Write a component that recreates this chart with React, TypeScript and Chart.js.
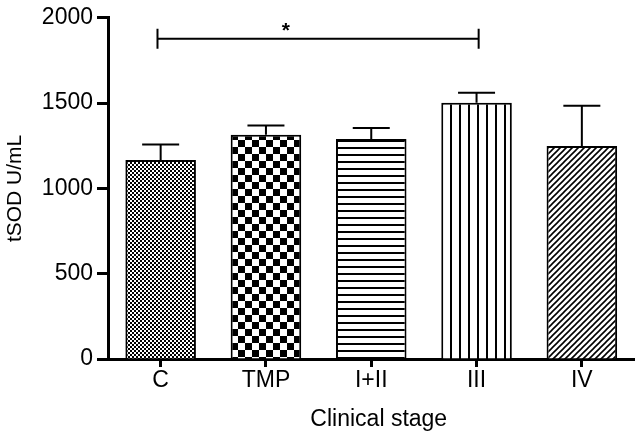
import React, { useEffect, useRef } from 'react';
import { Chart, registerables } from 'chart.js';

Chart.register(...registerables);

const categories = ['C', 'TMP', 'I+II', 'III', 'IV'];
const means = [1166, 1314, 1289, 1502, 1249];
const errors = [92, 54, 65, 58, 236];
const yTicks = [0, 500, 1000, 1500, 2000];
const sigFrom = [-0.03];
const sigTo = [3.02];
const sigLevel = [1877];
const sigLabel = ['*'];
const sigLabelAt = [1.19];
const xTitle = 'Clinical stage';
const yTitle = 'tSOD U/mL';
const patternKinds = ['fineChecker', 'checker', 'hlines', 'vlines', 'diag'];

const FONT = '"Liberation Sans", Arial, Helvetica, sans-serif';

function makePattern(kind: string): CanvasPattern | string {
  const c = document.createElement('canvas');
  let s = 4;
  if (kind === 'fineChecker') s = 4;
  if (kind === 'checker') s = 14;
  if (kind === 'hlines') s = 7;
  if (kind === 'vlines') s = 9;
  if (kind === 'diag') s = 6;
  c.width = s;
  c.height = s;
  const g = c.getContext('2d')!;
  g.fillStyle = '#fff';
  g.fillRect(0, 0, s, s);
  g.fillStyle = '#000';
  g.strokeStyle = '#000';
  if (kind === 'fineChecker') {
    g.fillRect(0, 0, 2, 2);
    g.fillRect(2, 2, 2, 2);
  } else if (kind === 'checker') {
    g.fillRect(0, 0, 7, 7);
    g.fillRect(7, 7, 7, 7);
  } else if (kind === 'hlines') {
    g.fillRect(0, 0, s, 2);
  } else if (kind === 'vlines') {
    g.fillRect(0, 0, 2, s);
  } else if (kind === 'diag') {
    g.lineWidth = 1.6;
    g.beginPath();
    g.moveTo(-1, s + 1);
    g.lineTo(s + 1, -1);
    g.moveTo(-1, 1);
    g.lineTo(1, -1);
    g.moveTo(s - 1, s + 1);
    g.lineTo(s + 1, s - 1);
    g.stroke();
  }
  const p = g.createPattern(c, 'repeat');
  return p || '#888';
}

const overlayPlugin = {
  id: 'overlay',
  afterDatasetsDraw(chart: any) {
    const ctx: CanvasRenderingContext2D = chart.ctx;
    const meta = chart.getDatasetMeta(0);
    const y = chart.scales.y;
    const x = chart.scales.x;
    ctx.save();
    ctx.strokeStyle = '#000';
    ctx.lineWidth = 2;
    meta.data.forEach((bar: any, i: number) => {
      const top = y.getPixelForValue(means[i] + errors[i]);
      const base = y.getPixelForValue(means[i]);
      ctx.beginPath();
      ctx.moveTo(bar.x, base);
      ctx.lineTo(bar.x, top);
      ctx.moveTo(bar.x - 18.5, top);
      ctx.lineTo(bar.x + 18.5, top);
      ctx.stroke();
    });
    // significance brackets
    sigFrom.forEach((f, i) => {
      const x1 = x.getPixelForValue(f);
      const x2 = x.getPixelForValue(sigTo[i]);
      const yy = y.getPixelForValue(sigLevel[i]);
      ctx.lineWidth = 2;
      ctx.beginPath();
      ctx.moveTo(x1, yy);
      ctx.lineTo(x2, yy);
      ctx.moveTo(x1, yy - 10);
      ctx.lineTo(x1, yy + 10);
      ctx.moveTo(x2, yy - 10);
      ctx.lineTo(x2, yy + 10);
      ctx.stroke();
      ctx.fillStyle = '#000';
      ctx.font = `bold 21px ${FONT}`;
      ctx.textAlign = 'center';
      ctx.textBaseline = 'alphabetic';
      ctx.fillText(sigLabel[i], x.getPixelForValue(sigLabelAt[i]), yy - 2);
    });
    // x axis title
    ctx.fillStyle = '#000';
    ctx.font = `23px ${FONT}`;
    ctx.textAlign = 'center';
    ctx.textBaseline = 'middle';
    ctx.fillText(xTitle, (x.left + x.right) / 2 + 7.5, chart.chartArea.bottom + 61);
    ctx.restore();
  },
};

export default function App() {
  const ref = useRef<HTMLCanvasElement>(null);
  useEffect(() => {
    const canvas = ref.current!;
    const chart = new Chart(canvas, {
      type: 'bar',
      data: {
        labels: categories,
        datasets: [
          {
            data: means,
            backgroundColor: patternKinds.map((k) => makePattern(k)) as any,
            borderColor: '#000',
            borderWidth: 2,
            barPercentage: 0.67,
            categoryPercentage: 1,
          },
        ],
      },
      options: {
        responsive: false,
        animation: false,
        devicePixelRatio: 1,
        layout: { padding: { top: 12.6, right: 3.5, left: 0, bottom: 0 } },
        plugins: {
          legend: { display: false },
          tooltip: { enabled: false },
          title: { display: false },
        },
        scales: {
          x: {
            offset: true,
            grid: {
              display: true,
              drawOnChartArea: false,
              drawTicks: true,
              offset: false,
              tickLength: 8,
              tickWidth: 3,
              tickColor: '#000',
            },
            border: { display: true, color: '#000', width: 3 },
            ticks: {
              color: '#000',
              font: { family: FONT, size: 23 },
              padding: 0,
              maxRotation: 0,
              autoSkip: false,
            },
            afterFit: (scale: any) => {
              scale.height = 76;
            },
          },
          y: {
            min: 0,
            max: 2000,
            afterBuildTicks: (scale: any) => {
              scale.ticks = yTicks.map((v) => ({ value: v }));
            },
            grid: {
              display: true,
              drawOnChartArea: false,
              drawTicks: true,
              tickLength: 11,
              tickWidth: 3,
              tickColor: '#000',
            },
            border: { display: true, color: '#000', width: 3 },
            ticks: {
              color: '#000',
              font: { family: FONT, size: 23 },
              padding: 4,
              callback: (v: any) => String(v),
            },
            title: {
              display: true,
              text: yTitle,
              color: '#000',
              font: { family: FONT, size: 21 },
              padding: { top: 3, bottom: 0 },
            },
            afterFit: (scale: any) => {
              scale.width = 108;
            },
          },
        },
      },
      plugins: [overlayPlugin],
    });
    return () => chart.destroy();
  }, []);
  return (
    <div style={{ position: 'absolute', left: 0, top: 0, width: 638, height: 435, background: '#fff' }}>
      <canvas ref={ref} width={638} height={435} style={{ display: 'block' }} />
    </div>
  );
}
